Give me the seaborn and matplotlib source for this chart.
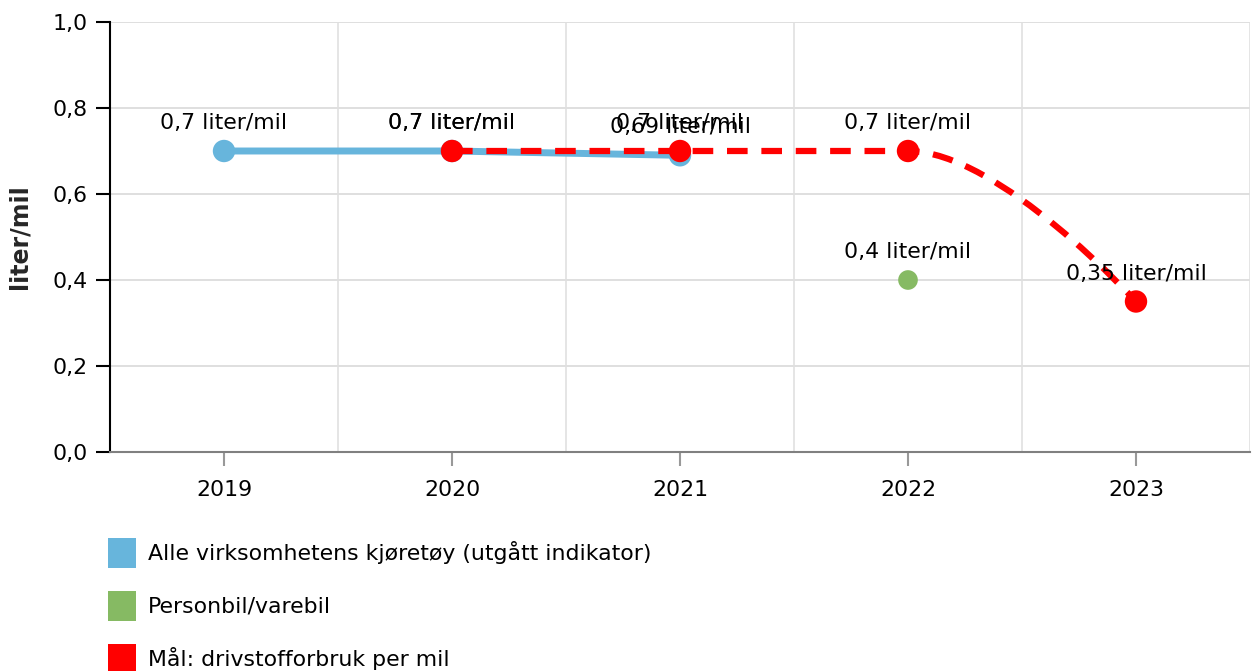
import numpy as np
import pandas as pd
import matplotlib
matplotlib.use("Agg")
import matplotlib.pyplot as plt
from matplotlib.path import Path
from matplotlib.patches import PathPatch, Rectangle
import seaborn as sns

years = ["2019", "2020", "2021", "2022", "2023"]
series_names = ["Alle virksomhetens kjøretøy (utgått indikator)",
                "Personbil/varebil",
                "Mål: drivstofforbruk per mil"]
colors = ["#67b5dc", "#86ba63", "#ff0000"]

blue_years = ["2019", "2020", "2021"]
blue_values = [0.7, 0.7, 0.69]
green_years = ["2022"]
green_values = [0.4]
red_years = ["2020", "2021", "2022", "2023"]
red_values = [0.7, 0.7, 0.7, 0.35]

yticks = [0.0, 0.2, 0.4, 0.6, 0.8, 1.0]

sns.set_theme(style="white")
plt.rcParams['font.family'] = ['DejaVu Sans']

W, H = 1253, 671
fig = plt.figure(figsize=(W / 100, H / 100), dpi=100)
ax = fig.add_axes([110 / W, 1 - 452 / H, 1140 / W, 430 / H])

pos = {y: i for i, y in enumerate(years)}
bx = [pos[y] for y in blue_years]
gx = [pos[y] for y in green_years]
rx = [pos[y] for y in red_years]

# grid
for v in yticks:
    ax.axhline(v, color="#d9d9d9", lw=1.2, zorder=0)
for k in range(len(years) + 1):
    ax.axvline(k - 0.5, color="#e0e0e0", lw=1.2, zorder=0)

# blue line
dfb = pd.DataFrame({"x": bx, "y": blue_values})
sns.lineplot(data=dfb, x="x", y="y", color=colors[0], lw=5, ax=ax, zorder=2)
sns.scatterplot(data=dfb, x="x", y="y", color=colors[0], s=260, edgecolor="none", ax=ax, zorder=3)

# red spline (Highcharts-style)
def spline_path(xs, ys, smoothing=1.5):
    n = len(xs)
    denom = smoothing + 1
    lc = [None] * n
    rc = [None] * n
    for i in range(1, n - 1):
        px, py = xs[i], ys[i]
        lx, ly = xs[i - 1], ys[i - 1]
        nx, ny = xs[i + 1], ys[i + 1]
        lcx = (smoothing * px + lx) / denom
        lcy = (smoothing * py + ly) / denom
        rcx = (smoothing * px + nx) / denom
        rcy = (smoothing * py + ny) / denom
        if rcx != lcx:
            corr = ((rcy - lcy) * (rcx - px)) / (rcx - lcx) + py - rcy
            lcy += corr
            rcy += corr
        if lcy > ly and lcy > py:
            lcy = max(ly, py)
            rcy = 2 * py - lcy
        elif lcy < ly and lcy < py:
            lcy = min(ly, py)
            rcy = 2 * py - lcy
        if rcy > py and rcy > ny:
            rcy = max(py, ny)
            lcy = 2 * py - rcy
        elif rcy < py and rcy < ny:
            rcy = min(py, ny)
            lcy = 2 * py - rcy
        lc[i] = (lcx, lcy)
        rc[i] = (rcx, rcy)
    verts = [(xs[0], ys[0])]
    codes = [Path.MOVETO]
    for i in range(1, n):
        c1 = rc[i - 1] if rc[i - 1] is not None else (xs[i - 1], ys[i - 1])
        c2 = lc[i] if lc[i] is not None else (xs[i], ys[i])
        verts += [c1, c2, (xs[i], ys[i])]
        codes += [Path.CURVE4] * 3
    return Path(verts, codes)

path = spline_path(rx, red_values)
patch = PathPatch(path, fill=False, edgecolor=colors[2], lw=4.5,
                  linestyle=(0, (3.3, 2.2)), zorder=4, capstyle="butt")
ax.add_patch(patch)
dfr = pd.DataFrame({"x": rx, "y": red_values})
sns.scatterplot(data=dfr, x="x", y="y", color=colors[2], s=260, edgecolor="none", ax=ax, zorder=5)

# green point
dfg = pd.DataFrame({"x": gx, "y": green_values})
sns.scatterplot(data=dfg, x="x", y="y", color=colors[1], s=200, edgecolor="none", ax=ax, zorder=5)

def fmt(v):
    s = ("%.2f" % v).rstrip("0").rstrip(".")
    return s.replace(".", ",") + " liter/mil"

fs = 15.8
for xs_, ys_ in [(bx, blue_values), (gx, green_values), (rx, red_values)]:
    for x, y in zip(xs_, ys_):
        ax.annotate(fmt(y), (x, y), xytext=(0, 28), textcoords="offset pixels",
                    ha="center", va="center", fontsize=fs, color="#000000", zorder=6)

ax.set_xlim(-0.5, len(years) - 0.5)
ax.set_ylim(0, 1.0)
ax.set_xticks(range(len(years)))
ax.set_xticklabels(years)
ax.set_yticks(yticks)
ax.set_yticklabels([("%.1f" % v).replace(".", ",") for v in yticks])
ax.set_xlabel("")
ax.set_ylabel("liter/mil", fontsize=17, fontweight="bold")
ax.yaxis.set_label_coords(-78 / 1140, 0.5)

for s in ["top", "right"]:
    ax.spines[s].set_visible(False)
ax.spines["left"].set_color("#000000")
ax.spines["left"].set_linewidth(1.5)
ax.spines["bottom"].set_color("#808080")
ax.spines["bottom"].set_linewidth(1.5)
ax.tick_params(axis="y", which="both", left=True, length=10, width=1.5, color="#000000",
               labelsize=fs, pad=6, labelcolor="#000000")
ax.tick_params(axis="x", which="both", bottom=True, length=10, width=1.5, color="#999999",
               labelsize=fs, pad=10, labelcolor="#000000")

# legend
for i, (name, c) in enumerate(zip(series_names, colors)):
    top = 538 + 53 * i
    fig.patches.append(Rectangle((108 / W, 1 - (top + 30) / H), 28 / W, 30 / H,
                                 transform=fig.transFigure, facecolor=c, edgecolor="none"))
    fig.text(148 / W, 1 - (top + 15) / H, name, ha="left", va="center",
             fontsize=fs, color="#000000")

fig.savefig("out.png", dpi=100, facecolor="white")
